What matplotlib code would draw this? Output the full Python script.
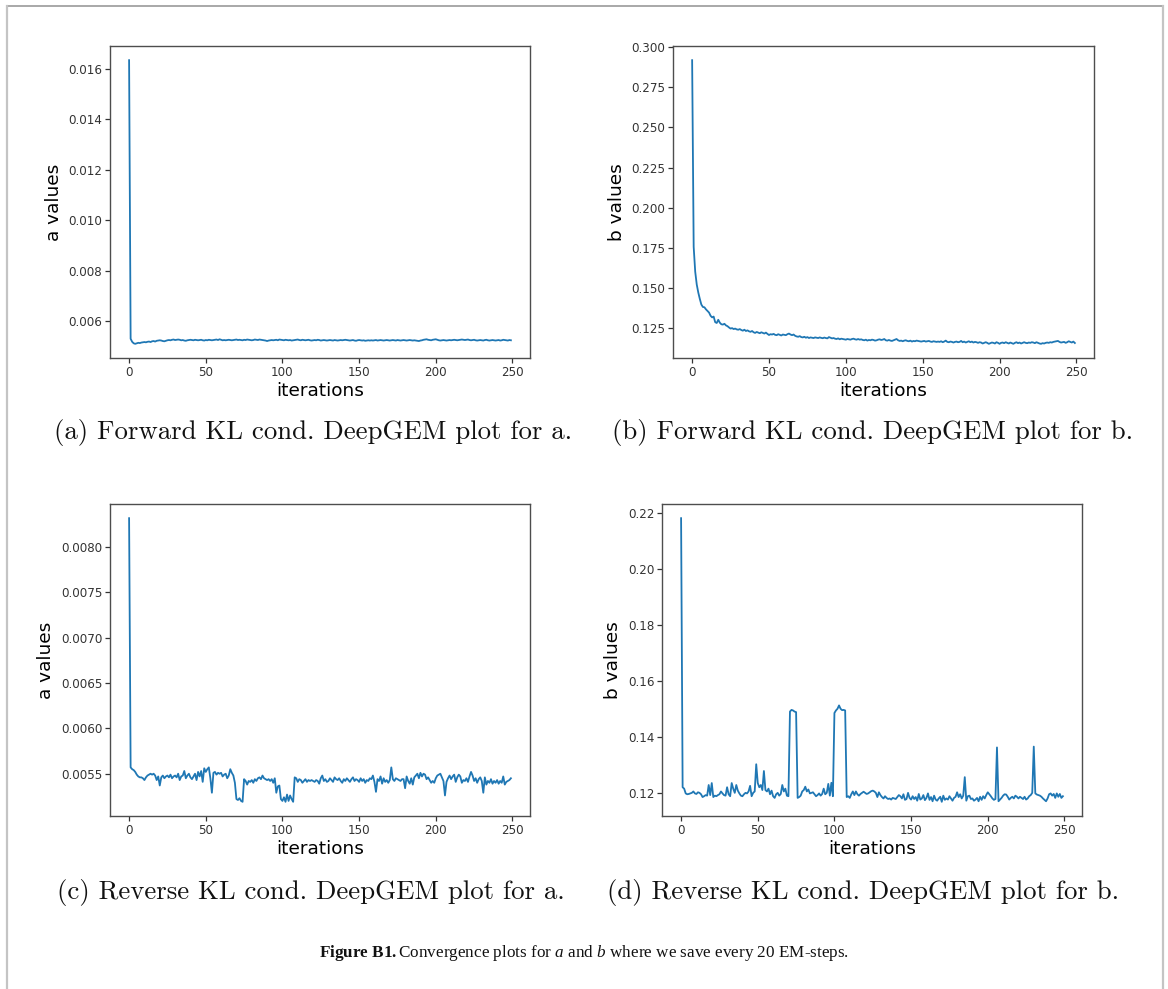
import numpy as np
import matplotlib
matplotlib.use('Agg')
import matplotlib.pyplot as plt
from matplotlib.lines import Line2D

# ----------------------------------------------------------------------
# Values (one value per saved iteration, 0..249)
iterations = np.arange(250)

# Forward KL, a values (units of 1e-5)
a_forward = np.array([
    1635, 530, 518, 512, 510, 512, 514, 513, 515, 516,
    517, 516, 518, 519, 517, 520, 521, 519, 522, 523,
    524, 523, 521, 520, 522, 524, 525, 524, 526, 527,
    525, 526, 527, 526, 524, 525, 523, 522, 524, 525,
    526, 525, 524, 526, 525, 524, 525, 526, 524, 523,
    525, 524, 526, 525, 524, 525, 526, 527, 525, 528,
    526, 524, 525, 524, 525, 526, 525, 524, 525, 526,
    527, 525, 526, 525, 524, 526, 525, 527, 526, 525,
    524, 525, 527, 526, 525, 527, 526, 525, 524, 523,
    521, 523, 524, 525, 524, 525, 526, 524, 527, 526,
    525, 524, 526, 525, 524, 525, 523, 524, 525, 526,
    527, 525, 524, 526, 525, 524, 525, 526, 524, 523,
    524, 525, 524, 526, 525, 523, 524, 525, 524, 523,
    524, 525, 524, 523, 525, 524, 523, 524, 525, 524,
    525, 526, 525, 524, 523, 524, 525, 523, 522, 524,
    525, 524, 523, 524, 522, 523, 524, 523, 524, 523,
    524, 525, 523, 524, 525, 524, 523, 524, 525, 524,
    523, 524, 525, 524, 523, 525, 524, 523, 524, 525,
    524, 523, 524, 525, 524, 523, 524, 523, 522, 521,
    523, 524, 526, 527, 528, 526, 525, 524, 526, 527,
    528, 526, 524, 523, 524, 525, 524, 523, 524, 525,
    524, 525, 526, 525, 524, 525, 526, 527, 526, 525,
    526, 527, 525, 524, 525, 526, 524, 523, 524, 525,
    524, 523, 525, 526, 524, 523, 524, 525, 524, 523,
    524, 525, 523, 524, 526, 525, 524, 523, 525, 524]) * 1e-5

# Forward KL, b values (units of 1e-4)
b_forward = np.array([
    2920, 1755, 1600, 1520, 1470, 1430, 1395, 1380, 1378, 1365,
    1355, 1345, 1325, 1315, 1320, 1285, 1280, 1300, 1282, 1272,
    1270, 1275, 1265, 1260, 1252, 1245, 1248, 1242, 1245, 1240,
    1238, 1242, 1236, 1232, 1238, 1230, 1234, 1228, 1225, 1230,
    1222, 1218, 1224, 1220, 1216, 1222, 1218, 1214, 1220, 1212,
    1205, 1210, 1208, 1212, 1206, 1204, 1210, 1206, 1202, 1208,
    1206, 1204, 1210, 1214, 1208, 1204, 1208, 1200, 1196, 1194,
    1198, 1192, 1190, 1194, 1188, 1192, 1186, 1190, 1188, 1186,
    1190, 1188, 1186, 1190, 1187, 1185, 1189, 1186, 1184, 1192,
    1188, 1184, 1186, 1182, 1180, 1184, 1178, 1182, 1180, 1178,
    1176, 1180, 1178, 1176, 1180, 1182, 1178, 1176, 1180, 1176,
    1178, 1174, 1172, 1176, 1170, 1174, 1172, 1176, 1174, 1170,
    1172, 1176, 1178, 1174, 1176, 1180, 1172, 1170, 1174, 1170,
    1168, 1172, 1176, 1180, 1172, 1168, 1170, 1166, 1170, 1172,
    1168, 1166, 1170, 1164, 1168, 1166, 1170, 1168, 1166, 1164,
    1166, 1168, 1164, 1166, 1168, 1164, 1162, 1166, 1164, 1162,
    1164, 1162, 1166, 1160, 1164, 1170, 1162, 1160, 1164, 1162,
    1158, 1162, 1164, 1160, 1162, 1168, 1160, 1164, 1158, 1162,
    1166, 1160, 1164, 1158, 1162, 1160, 1156, 1160, 1158, 1152,
    1156, 1160, 1156, 1150, 1154, 1158, 1156, 1152, 1160, 1156,
    1150, 1156, 1158, 1154, 1160, 1156, 1152, 1158, 1154, 1150,
    1156, 1160, 1154, 1158, 1152, 1156, 1160, 1156, 1154, 1158,
    1156, 1160, 1158, 1154, 1160, 1156, 1152, 1150, 1154, 1152,
    1156, 1158, 1156, 1160, 1158, 1162, 1164, 1166, 1168, 1162,
    1158, 1160, 1162, 1156, 1160, 1166, 1162, 1158, 1164, 1155]) * 1e-4

# Reverse KL, a values (units of 1e-6)
a_reverse = np.array([
    8320, 5570, 5550, 5540, 5520, 5490, 5470, 5460, 5460, 5450,
    5430, 5460, 5480, 5490, 5500, 5490, 5500, 5480, 5430, 5470,
    5370, 5460, 5480, 5450, 5470, 5480, 5460, 5490, 5450, 5470,
    5480, 5460, 5500, 5430, 5470, 5480, 5530, 5450, 5480, 5500,
    5460, 5440, 5470, 5500, 5430, 5520, 5470, 5530, 5410, 5560,
    5520, 5550, 5570, 5450, 5290, 5510, 5520, 5490, 5510, 5500,
    5510, 5470, 5490, 5500, 5450, 5480, 5550, 5510, 5480, 5400,
    5220, 5210, 5230, 5200, 5190, 5440, 5420, 5380, 5420, 5410,
    5430, 5400, 5440, 5420, 5450, 5460, 5440, 5480, 5450, 5440,
    5430, 5440, 5420, 5440, 5400, 5450, 5290, 5360, 5370, 5220,
    5200, 5240, 5190, 5270, 5200, 5260, 5220, 5190, 5460, 5450,
    5410, 5440, 5430, 5400, 5420, 5440, 5410, 5430, 5420, 5430,
    5420, 5410, 5430, 5420, 5390, 5450, 5480, 5420, 5440, 5410,
    5420, 5450, 5430, 5410, 5460, 5440, 5430, 5450, 5420, 5400,
    5440, 5420, 5450, 5430, 5410, 5440, 5460, 5420, 5440, 5430,
    5410, 5450, 5420, 5440, 5400, 5430, 5420, 5450, 5440, 5480,
    5410, 5300, 5440, 5420, 5470, 5390, 5450, 5410, 5430, 5400,
    5430, 5570, 5440, 5420, 5450, 5440, 5430, 5420, 5440, 5440,
    5340, 5470, 5420, 5390, 5450, 5380, 5460, 5480, 5500, 5450,
    5510, 5470, 5500, 5490, 5440, 5460, 5430, 5400, 5420, 5400,
    5450, 5480, 5490, 5500, 5460, 5420, 5260, 5410, 5450, 5480,
    5440, 5470, 5490, 5410, 5460, 5490, 5470, 5400, 5430, 5420,
    5450, 5410, 5470, 5520, 5480, 5420, 5450, 5400, 5440, 5460,
    5420, 5290, 5460, 5380, 5420, 5400, 5440, 5390, 5420, 5400,
    5430, 5390, 5420, 5400, 5470, 5380, 5410, 5420, 5430, 5450]) * 1e-6

# Reverse KL, b values (units of 1e-4)
b_reverse = np.array([
    2180, 1220, 1215, 1198, 1195, 1196, 1198, 1200, 1205, 1198,
    1196, 1202, 1200, 1195, 1185, 1188, 1192, 1190, 1228, 1192,
    1235, 1185, 1190, 1188, 1192, 1195, 1205, 1198, 1192, 1190,
    1220, 1195, 1188, 1235, 1215, 1200, 1228, 1208, 1198, 1190,
    1188, 1195, 1200, 1198, 1205, 1225, 1188, 1200, 1205, 1302,
    1235, 1220, 1228, 1210, 1278, 1210, 1205, 1215, 1195, 1208,
    1188, 1182, 1195, 1200, 1190, 1196, 1228, 1205, 1215, 1190,
    1188, 1490, 1496, 1494, 1490, 1488, 1182, 1185, 1190, 1205,
    1210, 1222, 1205, 1212, 1198, 1200, 1202, 1195, 1188, 1192,
    1198, 1190, 1196, 1215, 1195, 1200, 1232, 1190, 1236, 1188,
    1485, 1494, 1500, 1512, 1500, 1495, 1496, 1494, 1185, 1188,
    1182, 1195, 1205, 1192, 1205, 1195, 1190, 1196, 1200, 1204,
    1200, 1196, 1198, 1202, 1206, 1208, 1205, 1200, 1185, 1202,
    1192, 1185, 1180, 1188, 1182, 1178, 1180, 1176, 1182, 1180,
    1178, 1185, 1192, 1188, 1180, 1195, 1175, 1178, 1200, 1182,
    1176, 1188, 1178, 1185, 1172, 1196, 1176, 1180, 1192, 1174,
    1182, 1198, 1175, 1185, 1170, 1190, 1176, 1172, 1180, 1186,
    1168, 1190, 1175, 1180, 1176, 1188, 1180, 1172, 1182, 1186,
    1202, 1185, 1195, 1180, 1190, 1256, 1172, 1188, 1190, 1178,
    1180, 1172, 1176, 1182, 1170, 1186, 1175, 1188, 1180, 1192,
    1202, 1195, 1188, 1180, 1175, 1178, 1362, 1170, 1176, 1182,
    1190, 1195, 1194, 1186, 1176, 1182, 1186, 1180, 1190, 1186,
    1180, 1186, 1182, 1178, 1186, 1176, 1180, 1188, 1192, 1200,
    1365, 1198, 1194, 1192, 1190, 1186, 1180, 1175, 1170, 1180,
    1195, 1198, 1190, 1196, 1182, 1198, 1186, 1196, 1182, 1188]) * 1e-4

ylabels = ['a values', 'b values', 'a values', 'b values']
subcaptions = ['(a) Forward KL cond. DeepGEM plot for a.',
               '(b) Forward KL cond. DeepGEM plot for b.',
               '(c) Reverse KL cond. DeepGEM plot for a.',
               '(d) Reverse KL cond. DeepGEM plot for b.']
b_ticks = [0.125, 0.150, 0.175, 0.200, 0.225, 0.250, 0.275, 0.300]

# ----------------------------------------------------------------------
W, H = 1168, 989
fig = plt.figure(figsize=(W / 100, H / 100), dpi=100)

def box(l, t, r, b):
    # pixel box -> figure fraction
    return [l / W, 1 - b / H, (r - l) / W, (b - t) / H]

axes_boxes = [box(110, 46, 530, 358), box(673, 46, 1094, 358),
              box(110, 504, 530, 816), box(662, 504, 1082, 816)]
series = [a_forward, b_forward, a_reverse, b_reverse]

for i in range(4):
    ax = fig.add_axes(axes_boxes[i])
    ax.plot(iterations, series[i], color='#1f77b4', lw=1.3)
    ax.set_xlabel('iterations', fontsize=13.3, labelpad=2.5)
    ax.set_ylabel(ylabels[i], fontsize=13.3)
    ax.set_xticks([0, 50, 100, 150, 200, 250])
    ax.tick_params(labelsize=8.6, colors='#333333', length=3.5, pad=2, width=0.9)
    for s in ax.spines.values():
        s.set_color('#4d4d4d')
        s.set_linewidth(1.0)
    if i == 1:
        ax.set_yticks(b_ticks)
        ax.set_yticklabels(['%.3f' % v for v in b_ticks])

# sub-figure captions (LaTeX style)
cap_pos = [(313, 433), (873, 433), (311, 893), (863, 893)]
for (cx, cy), txt in zip(cap_pos, subcaptions):
    fig.text(cx / W, 1 - cy / H, txt, family='cmr10', fontsize=19.3,
             ha='center', va='center', color='#111111')

# figure caption
plt.rcParams['mathtext.fontset'] = 'custom'
plt.rcParams['mathtext.rm'] = 'Liberation Serif'
plt.rcParams['mathtext.it'] = 'Liberation Serif:italic'
plt.rcParams['mathtext.bf'] = 'Liberation Serif:bold'
fig.text(584 / W, 1 - 953 / H,
         r'$\mathbf{Figure\ B1.}$Convergence plots for $a$ and $b$ where we save every 20 EM-steps.',
         family='Liberation Serif', fontsize=12.3, ha='center', va='center', color='#111111')

# page frame
fig.add_artist(Line2D([7 / W, 1163 / W], [1 - 6 / H, 1 - 6 / H], color='#999999', lw=1.2))
fig.add_artist(Line2D([7 / W, 7 / W], [0, 1 - 6 / H], color='#c4c4c4', lw=1.6))
fig.add_artist(Line2D([1163 / W, 1163 / W], [0, 1 - 6 / H], color='#c4c4c4', lw=1.6))

fig.savefig('out.png', dpi=100)
